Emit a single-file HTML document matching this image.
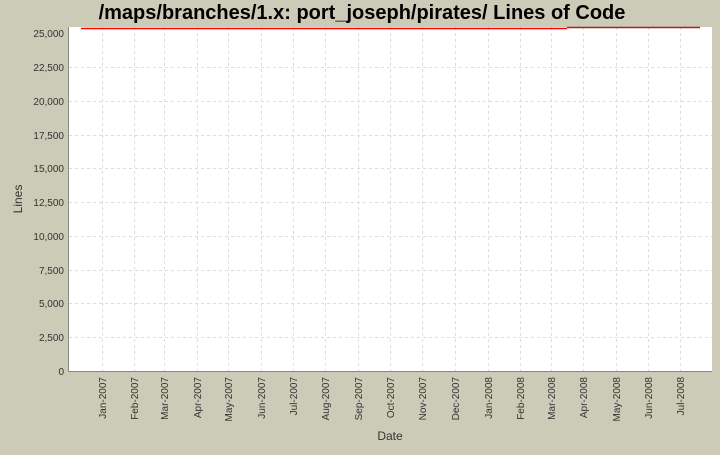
<!DOCTYPE html>
<html><head><style>
body{margin:0;background:#cccbb8;width:720px;height:450px;overflow:hidden;font-family:"Liberation Sans",sans-serif;}
</style></head><body>
<svg width="720" height="450" xmlns="http://www.w3.org/2000/svg" font-family="Liberation Sans, sans-serif">
<rect width="720" height="450" fill="#cccbb8"/>
<text x="362" y="19" text-anchor="middle" font-size="20" font-weight="bold" fill="#000">/maps/branches/1.x: port_joseph/pirates/ Lines of Code</text>
<rect x="69" y="27" width="643" height="344" fill="#fff"/>
<g stroke="#ddd" stroke-dasharray="3,3" stroke-width="1">
<line x1="69" x2="712" y1="67.5" y2="67.5"/><line x1="69" x2="712" y1="101.5" y2="101.5"/><line x1="69" x2="712" y1="135.5" y2="135.5"/><line x1="69" x2="712" y1="168.5" y2="168.5"/><line x1="69" x2="712" y1="202.5" y2="202.5"/><line x1="69" x2="712" y1="236.5" y2="236.5"/><line x1="69" x2="712" y1="270.5" y2="270.5"/><line x1="69" x2="712" y1="303.5" y2="303.5"/><line x1="69" x2="712" y1="337.5" y2="337.5"/>
<line y1="27" y2="371" x1="102.5" x2="102.5"/><line y1="27" y2="371" x1="134.5" x2="134.5"/><line y1="27" y2="371" x1="164.5" x2="164.5"/><line y1="27" y2="371" x1="197.5" x2="197.5"/><line y1="27" y2="371" x1="228.5" x2="228.5"/><line y1="27" y2="371" x1="261.5" x2="261.5"/><line y1="27" y2="371" x1="293.5" x2="293.5"/><line y1="27" y2="371" x1="325.5" x2="325.5"/><line y1="27" y2="371" x1="358.5" x2="358.5"/><line y1="27" y2="371" x1="390.5" x2="390.5"/><line y1="27" y2="371" x1="422.5" x2="422.5"/><line y1="27" y2="371" x1="455.5" x2="455.5"/><line y1="27" y2="371" x1="488.5" x2="488.5"/><line y1="27" y2="371" x1="520.5" x2="520.5"/><line y1="27" y2="371" x1="551.5" x2="551.5"/><line y1="27" y2="371" x1="583.5" x2="583.5"/><line y1="27" y2="371" x1="616.5" x2="616.5"/><line y1="27" y2="371" x1="648.5" x2="648.5"/><line y1="27" y2="371" x1="680.5" x2="680.5"/>
</g>
<line x1="68.5" y1="27" x2="68.5" y2="372" stroke="#888"/>
<line x1="68" y1="371.5" x2="712" y2="371.5" stroke="#888"/>
<line x1="81" y1="28.5" x2="567" y2="28.5" stroke="#ff0000" stroke-width="1.5"/>
<line x1="567" y1="27.5" x2="700" y2="27.5" stroke="#aa2222" stroke-width="1.5"/>
<g font-size="10" fill="#333" text-anchor="end">
<text x="64" y="37">25,000</text><text x="64" y="71">22,500</text><text x="64" y="105">20,000</text><text x="64" y="139">17,500</text><text x="64" y="172">15,000</text><text x="64" y="206">12,500</text><text x="64" y="240">10,000</text><text x="64" y="274">7,500</text><text x="64" y="307">5,000</text><text x="64" y="341">2,500</text><text x="64" y="375">0</text>
</g>
<g font-size="10" fill="#333" text-anchor="end">
<text transform="translate(106,377) rotate(-90)">Jan-2007</text><text transform="translate(138,377) rotate(-90)">Feb-2007</text><text transform="translate(168,377) rotate(-90)">Mar-2007</text><text transform="translate(201,377) rotate(-90)">Apr-2007</text><text transform="translate(232,377) rotate(-90)">May-2007</text><text transform="translate(265,377) rotate(-90)">Jun-2007</text><text transform="translate(297,377) rotate(-90)">Jul-2007</text><text transform="translate(329,377) rotate(-90)">Aug-2007</text><text transform="translate(362,377) rotate(-90)">Sep-2007</text><text transform="translate(394,377) rotate(-90)">Oct-2007</text><text transform="translate(426,377) rotate(-90)">Nov-2007</text><text transform="translate(459,377) rotate(-90)">Dec-2007</text><text transform="translate(492,377) rotate(-90)">Jan-2008</text><text transform="translate(524,377) rotate(-90)">Feb-2008</text><text transform="translate(555,377) rotate(-90)">Mar-2008</text><text transform="translate(587,377) rotate(-90)">Apr-2008</text><text transform="translate(620,377) rotate(-90)">May-2008</text><text transform="translate(652,377) rotate(-90)">Jun-2008</text><text transform="translate(684,377) rotate(-90)">Jul-2008</text>
</g>
<text x="390" y="440" font-size="12" text-anchor="middle" fill="#333">Date</text>
<text transform="translate(22,199) rotate(-90)" font-size="12" text-anchor="middle" fill="#333">Lines</text>
</svg>
</body></html>
